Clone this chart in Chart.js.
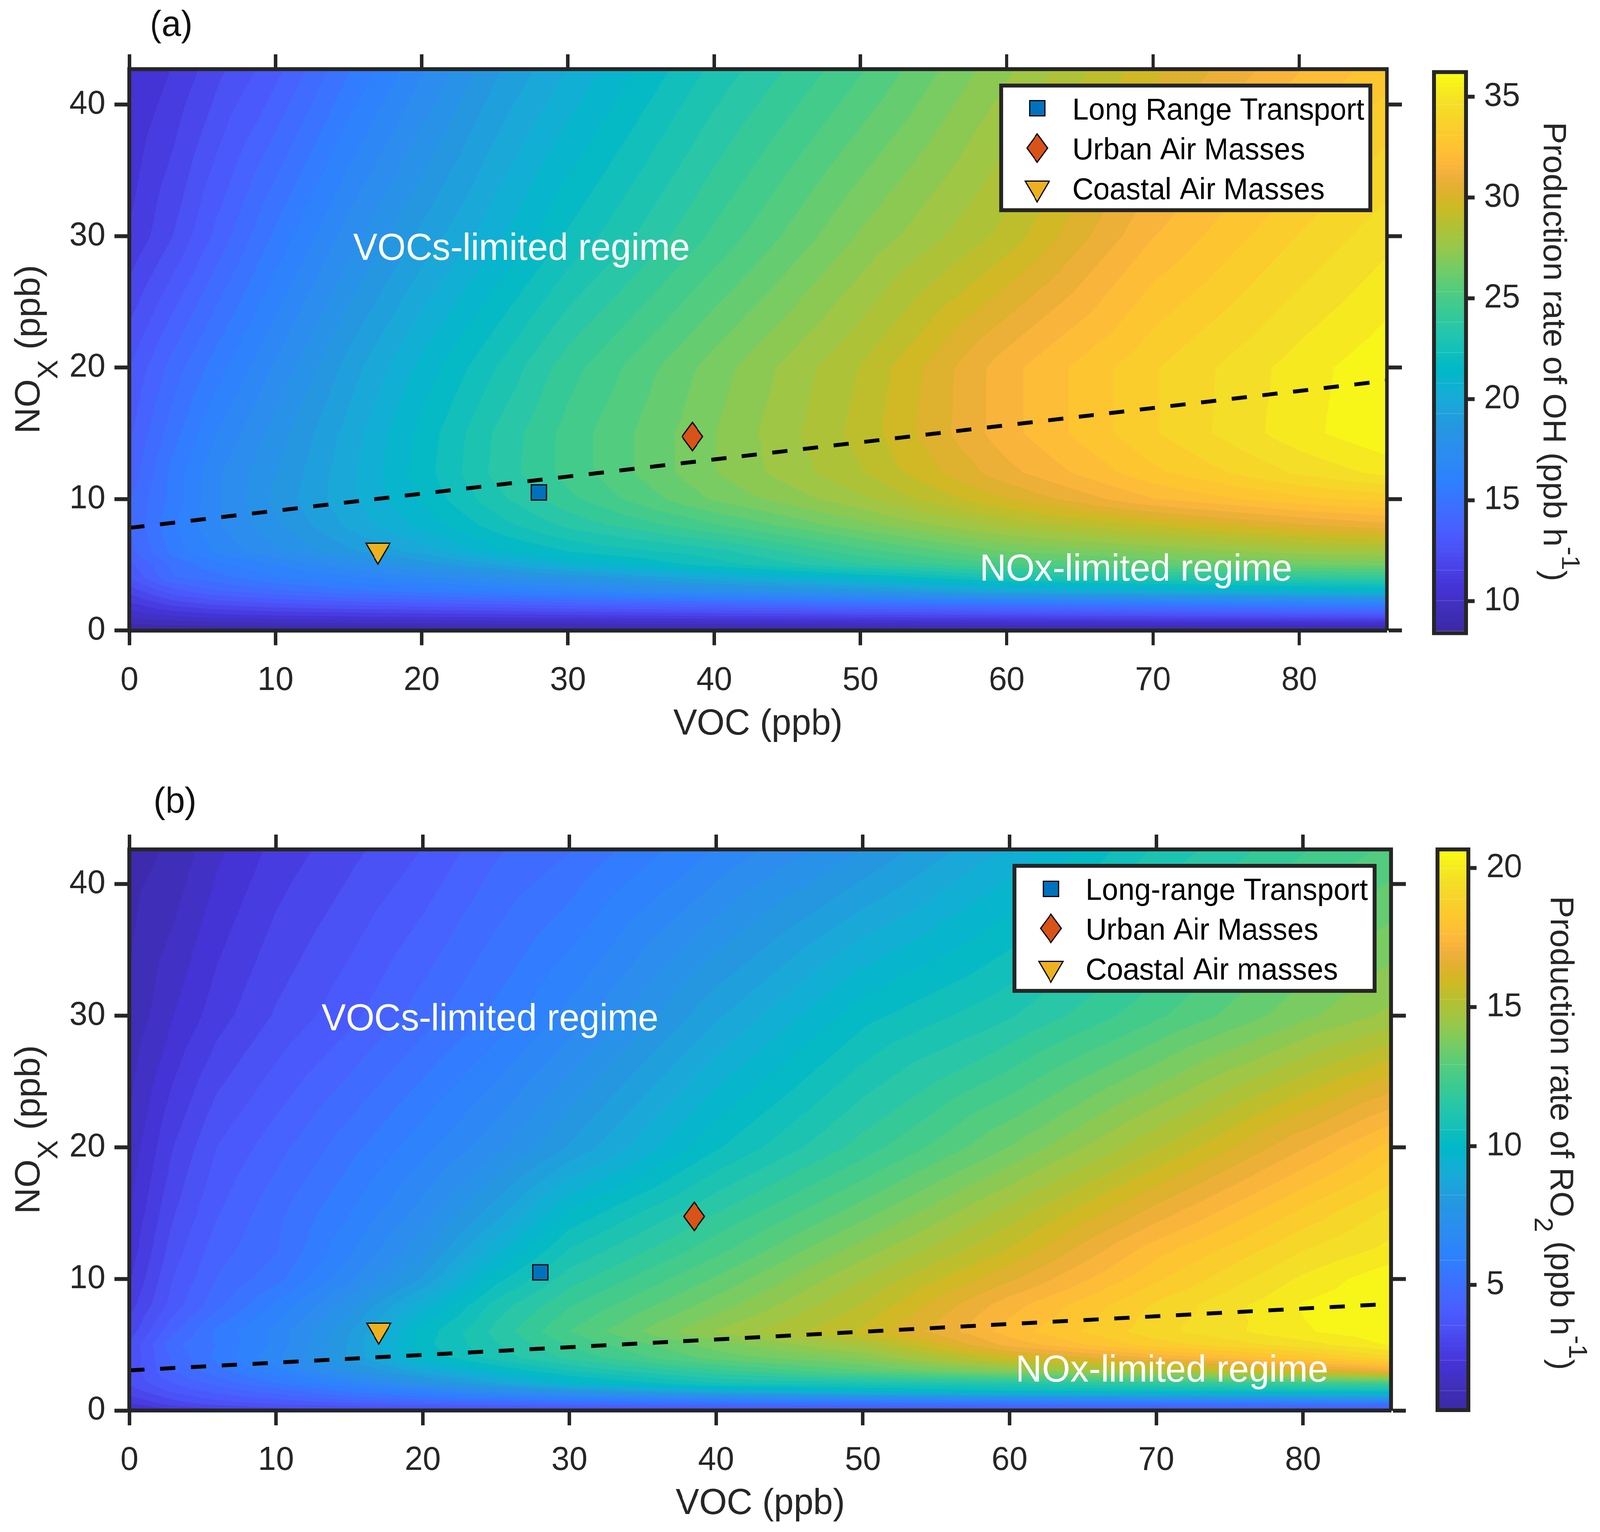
<!DOCTYPE html>
<html>
<head>
<meta charset="utf-8">
<title>OH and RO2 production isopleths</title>
<style>
html,body{margin:0;padding:0;background:#fff;overflow:hidden}
#page{position:absolute;left:0;top:0;width:4205px;height:3921px;transform-origin:0 0;background:#fff}
canvas{position:absolute;display:block}
</style>
<script src="https://cdn.jsdelivr.net/npm/chart.js@4/dist/chart.umd.js"></script>
</head>
<body>
<div id="page">
<canvas id="mainA"></canvas><canvas id="barA"></canvas>
<canvas id="mainB"></canvas><canvas id="barB"></canvas>
</div>
<script>
// the browser window may be narrower than the 4205 px sheet: fit the sheet to it
document.getElementById('page').style.transform='scale('+Math.min(1,innerWidth/4205)+','+Math.min(1,innerHeight/3921)+')';

// ---------- data ----------
const vocTicks = [0,10,20,30,40,50,60,70,80];
const noxTicks = [0,10,20,30,40];
const ohBarTicks = [10,15,20,25,30,35];
const ro2BarTicks = [5,10,15,20];
const vocMax = 86, noxMaxA = 42.7, noxMaxB = 42.64;
const ohRange = [8.5,36.13], ro2Range = [0.57,20.6];

const seriesNames = ['Long Range Transport','Urban Air Masses','Coastal Air Masses'];
const seriesNamesB = ['Long-range Transport','Urban Air Masses','Coastal Air masses'];
const seriesVoc = [28,38.5,17];
const seriesNox = [10.5,14.75,5.85];
const seriesColors = ['#0072BD','#D95319','#EDB120'];
const ridgeVoc = [0,86];
const ridgeNoxA = [7.8,19];
const ridgeNoxB = [3.05,8.1];

const gridVoc = [0,3,6,10,15,20,25,30,40,50,60,70,80,86];
const gridNoxA = [0,0.5,1,2,3,4,5,6,8,10,12,15,20,30,42.7];
const ohRate = [
 [8.4,8.5,8.5,8.6,8.6,8.6,8.6,8.6,8.6,8.6,8.6,8.6,8.6,8.6],
 [9.1,9.3,9.4,9.5,9.6,9.6,9.7,9.7,9.8,9.9,10,10.1,10.2,10.2],
 [9.8,10.2,10.5,10.7,10.8,10.9,11,11.1,11.3,11.5,11.7,11.9,12.1,12.2],
 [10.8,11.8,12.3,12.7,13,13.2,13.4,13.7,14.1,14.6,15,15.4,15.8,16],
 [11.8,13.2,14,14.5,15.1,15.5,16,16.5,17.6,18.6,20,20.5,20.9,21.1],
 [12.8,14.6,15,15.8,16.3,16.9,17.6,18.3,20,21.3,22.8,23.3,23.8,24],
 [13.2,14.8,15.7,16.5,17.4,18.5,19.5,20.7,22.3,23.8,25,25.8,26.3,26.5],
 [13.8,15.5,16.6,17.6,18.8,19.8,21.2,22,23,24.8,26.3,27,27.8,28],
 [14,15.8,17,18.2,19.7,21,22.3,23.4,25,26.7,28.3,29.4,30.5,31],
 [14,15.5,17,18.5,20,21.5,23,24.3,26.4,28,30,31.8,32.9,33.3],
 [13.6,15.5,17,18.3,20,21.7,23.4,24.7,26.9,28.7,31,32.9,34.4,35.1],
 [13.3,15,16.5,18,19.8,21.6,23.3,24.7,26.9,29,31.6,33.6,35.3,36.05],
 [12.8,14.3,15.6,17.2,19.2,21,22.6,24.2,26.6,28.8,31.6,33.6,35.2,36],
 [11,12.2,13.6,15.4,17.4,19.1,20.6,22.1,24.6,27,29,31.8,33.7,34.7],
 [10.3,11,12,13.2,15.2,17,18.8,20.2,22.8,25,27.4,29.8,31.8,32.8]
];
const gridNoxB = [0,0.5,1,1.5,2,3,4,5,6,8,10,12,15,20,30,42.64];
const ro2Rate = [
 [1.5,2.2,2.6,2.9,3,3.1,3.2,3.3,3.4,3.5,3.6,3.7,3.8,3.8],
 [2.3,3,3.4,3.7,4,4.3,4.5,4.7,4.9,5,5.1,5.1,5.2,5.2],
 [2.7,3.4,3.9,4.3,4.9,5.4,5.9,6.3,6.9,7.3,7.7,7.9,8.1,8.2],
 [3,3.8,4.3,4.8,5.6,6.3,7.1,7.9,9.2,9.9,10.3,10.4,10.5,10.6],
 [3.3,4.1,4.7,5.4,6.3,7.4,8.5,9.6,10.7,10.9,11.2,11.6,11.9,12.1],
 [3.4,4.6,5.3,6.2,7.5,8.8,9.9,10.8,12,13,14,14.9,16.1,16.8],
 [3.3,4.7,5.6,6.7,8.2,10,11,11.8,13.2,14,15.9,17.1,18.2,19.1],
 [3.3,4.9,5.5,6.5,8.2,10.2,11.2,12.2,13.7,14.9,17.2,18.6,19.5,20.2],
 [3,4.5,5.6,6.5,8.1,10.1,11.4,12.6,14.4,15.8,17.7,19.1,20.1,20.5],
 [2.6,3.9,4.9,6,7.5,9.3,11,12.1,13.7,15.3,17.3,18.9,20.2,20.6],
 [2.3,3.7,4.6,5.3,6.7,8.2,10.2,11.5,13.1,14.8,16.5,18.3,19.8,20.5],
 [2.1,3.5,4.4,5,6.3,7.6,9.4,10.9,12.5,14.2,15.8,17.8,19.3,19.9],
 [1.9,3.2,4.1,4.9,5.9,7,8.4,10,11.7,13.3,15,16.8,18.5,19.4],
 [1.6,2.8,3.7,4.4,5.3,6.2,7.1,8.2,10.3,11.9,13.5,15.2,17,18.1],
 [1.1,1.9,2.6,3.3,4,4.8,5.6,6.5,8.5,10.2,11.2,12.5,13.8,14.5],
 [0.8,1.1,1.8,2.5,3.1,3.7,4.5,5,6.4,7.7,9.1,10.9,12.1,12.7]
];
const cmapStops = [0,0.044,0.077,0.11,0.143,0.175,0.214,0.267,0.319,0.371,0.42,0.469,0.504,0.537,0.573,0.609,0.655,0.694,0.733,0.765,0.792,0.818,0.844,0.877,0.915,0.948,1];
const cmapColors = ['#3c28a8','#4030bc','#4433d5','#4840e5','#4a50f5','#4a5cff','#3f6cff','#2e80ff','#2c8cf0','#2498e0','#18acd8','#00b8c8','#14c0b8','#25c5ac','#38ca94','#50cc80','#78cc62','#9bc748','#b5c030','#cfba24','#e0b030','#f0b03c','#ffb83a','#fdc52f','#f8d32b','#f5df26','#f9fb15'];

// ---------- helpers ----------
const FONT = '"Liberation Sans", Arial, sans-serif';
const INK = '#262626';
const bandCount = 45, barSteps = 128;
function hexRgb(h){return [1,3,5].map(i=>parseInt(h.substr(i,2),16));}
function cmap(t){
  t=Math.max(0,Math.min(1,t));
  let i=0; while(i<cmapStops.length-2 && t>cmapStops[i+1]) i++;
  const f=(t-cmapStops[i])/(cmapStops[i+1]-cmapStops[i]);
  const a=hexRgb(cmapColors[i]), b=hexRgb(cmapColors[i+1]);
  return 'rgb('+a.map((v,k)=>Math.round(v+(b[k]-v)*f)).join(',')+')';
}
function markerCanvas(kind,color){
  const sizes={square:[43,42],diamond:[56,75],triangle:[66,56]};
  const [w,h]=sizes[kind], c=document.createElement('canvas');
  c.width=w+4;c.height=h+4;
  const g=c.getContext('2d');
  g.translate(2,2);g.beginPath();
  if(kind==='square'){g.rect(1.5,1.5,w-3,h-3);}
  else if(kind==='diamond'){g.moveTo(w/2,1);g.lineTo(w-1,h/2);g.lineTo(w/2,h-1);g.lineTo(1,h/2);g.closePath();}
  else{g.moveTo(1.5,1.5);g.lineTo(w-1.5,1.5);g.lineTo(w/2,h-1);g.closePath();}
  g.fillStyle=color;g.fill();
  g.lineWidth=3;g.strokeStyle='#000';g.lineJoin='miter';g.stroke();
  return c;
}
const markerKinds=['square','diamond','triangle'];
const markers=markerKinds.map((k,i)=>markerCanvas(k,seriesColors[i]));

function richText(ctx,x,y,angle,runs,size,color){
  const fontOf=r=>(r.sub||r.sup? size*0.8:size)+'px '+FONT;
  let total=0; runs.forEach(r=>{ctx.font=fontOf(r);total+=ctx.measureText(r.t).width;});
  ctx.save();ctx.translate(x,y);ctx.rotate(angle);ctx.fillStyle=color;
  ctx.textAlign='left';ctx.textBaseline='alphabetic';
  let p=-total/2;
  runs.forEach(r=>{
    ctx.font=fontOf(r);
    ctx.fillText(r.t,p,r.sub?size*0.5:(r.sup?-size*0.56:0));
    p+=ctx.measureText(r.t).width;
  });
  ctx.restore();
}
const contourBands={id:'contourBands',beforeDatasetsDraw(chart,args,o){
  const {ctx,chartArea:a,scales:{x:sx,y:sy}}=chart;
  const px=o.xs.map(v=>sx.getPixelForValue(v)), py=o.ys.map(v=>sy.getPixelForValue(v));
  const [lo,hi]=o.range, step=(hi-lo)/bandCount;
  ctx.save();ctx.beginPath();ctx.rect(a.left,a.top,a.width,a.height);ctx.clip();
  for(let k=0;k<bandCount;k++){
    const lev=k===0?-1e9:lo+k*step;
    ctx.beginPath();
    const tri=(A,B,C)=>{
      const out=[],P=[A,B,C];
      for(let i=0;i<3;i++){
        const u=P[i],v=P[(i+1)%3];
        if(u[2]>=lev) out.push(u);
        if((u[2]>=lev)!==(v[2]>=lev)){
          const f=(lev-u[2])/(v[2]-u[2]);
          out.push([u[0]+(v[0]-u[0])*f,u[1]+(v[1]-u[1])*f]);
        }
      }
      if(out.length<3) return;
      ctx.moveTo(out[0][0],out[0][1]);
      for(let i=1;i<out.length;i++) ctx.lineTo(out[i][0],out[i][1]);
      ctx.closePath();
    };
    for(let j=0;j<o.ys.length-1;j++) for(let i=0;i<o.xs.length-1;i++){
      const a1=[px[i],py[j],o.z[j][i]],b1=[px[i+1],py[j],o.z[j][i+1]],
            c1=[px[i+1],py[j+1],o.z[j+1][i+1]],d1=[px[i],py[j+1],o.z[j+1][i]],
            m=[(px[i]+px[i+1])/2,(py[j]+py[j+1])/2,(a1[2]+b1[2]+c1[2]+d1[2])/4];
      tri(a1,b1,m);tri(b1,c1,m);tri(c1,d1,m);tri(d1,a1,m);
    }
    ctx.fillStyle=cmap((k+0.5)/bandCount);
    ctx.fill();
  }
  ctx.restore();
}};
const panelDecor={id:'panelDecor',afterDatasetsDraw(chart,args,o){
  const {ctx,scales:{x:sx,y:sy}}=chart;
  ctx.save();
  ctx.font='96px '+FONT;ctx.fillStyle='#fff';ctx.textAlign='left';ctx.textBaseline='alphabetic';
  o.notes.forEach(n=>ctx.fillText(n.text,sx.getPixelForValue(n.x),sy.getPixelForValue(n.y)));
  const L=o.legend;
  ctx.fillStyle='#fff';ctx.fillRect(L.x,L.y,L.w,L.h);
  ctx.lineWidth=10;ctx.strokeStyle=INK;ctx.strokeRect(L.x+5,L.y+5,L.w-10,L.h-10);
  L.names.forEach((name,i)=>{
    const m=markers[i];
    ctx.drawImage(m,L.mx-m.width/2,L.my[i]-m.height/2);
    ctx.font='77px '+FONT;ctx.fillStyle='#000';ctx.fillText(name,L.tx,L.ty[i]);
  });
  ctx.font='92px '+FONT;ctx.fillStyle='#111';ctx.textAlign='center';
  ctx.fillText(o.letter.text,o.letter.x,o.letter.y);
  ctx.font='93px '+FONT;ctx.fillStyle=INK;ctx.textAlign='center';
  ctx.fillText('VOC (ppb)',o.xTitle.x,o.xTitle.y);
  richText(ctx,o.yTitle.x,o.yTitle.y,-Math.PI/2,[{t:'NO'},{t:'X',sub:true},{t:' (ppb)'}],93,INK);
  ctx.restore();
}};
const barDecor={id:'barDecor',afterDatasetsDraw(chart,args,o){
  const {ctx,chartArea:a}=chart;
  ctx.save();ctx.lineWidth=10;ctx.strokeStyle=INK;
  ctx.strokeRect(a.left-5,a.top-5,a.width+10,a.height+10);
  richText(ctx,o.title.x,o.title.y,Math.PI/2,o.title.runs,85,INK);
  ctx.restore();
}};
function placed(id,left,top,w,h){
  const c=document.getElementById(id);
  c.style.left=left+'px';c.style.top=top+'px';
  c.style.width=w+'px';c.style.height=h+'px';c.width=w;c.height=h;
  return c;
}
function mainChart(id,top,height,area,field,noxMax,ridge,extras){
  const W=3740;
  const c=placed(id,0,top,W,height);
  const tickFont={family:FONT,size:85};
  const axisBase={type:'linear',border:{display:true,width:10,color:INK,z:2}};
  const xAxis=(pos,labels)=>({...axisBase,position:pos,min:0,max:vocMax,
    grid:{drawOnChartArea:false,drawTicks:true,tickLength:38,tickWidth:9,tickColor:INK,z:2},
    ticks:{display:labels,autoSkip:false,maxRotation:0,color:INK,font:tickFont,padding:40},
    afterBuildTicks:s=>{s.ticks=vocTicks.map(v=>({value:v}));},
    afterFit:s=>{s.height=pos==='bottom'?height-area.bottom:area.top;}});
  const yAxis=(pos,labels)=>({...axisBase,position:pos,min:0,max:noxMax,
    grid:{drawOnChartArea:false,drawTicks:true,tickLength:39,tickWidth:10,tickColor:INK,z:2},
    ticks:{display:labels,autoSkip:false,color:INK,font:tickFont,padding:24},
    afterBuildTicks:s=>{s.ticks=noxTicks.map(v=>({value:v}));},
    afterFit:s=>{s.width=pos==='left'?area.left:W-area.right;}});
  return new Chart(c,{
    type:'scatter',
    data:{datasets:[
      {type:'line',label:'Regime boundary',data:ridgeVoc.map((v,i)=>({x:v,y:ridge[i]})),
       borderColor:'#000',borderWidth:10,borderDash:[40,41],pointRadius:0,fill:false,tension:0,order:2},
      ...extras.legend.names.map((n,i)=>({label:n,data:[{x:seriesVoc[i],y:seriesNox[i]}],
       pointStyle:markers[i],pointRadius:30,backgroundColor:seriesColors[i],order:1}))
    ]},
    options:{responsive:false,animation:false,devicePixelRatio:1,
      layout:{padding:0},events:[],
      scales:{x:xAxis('bottom',true),xTop:xAxis('top',false),y:yAxis('left',true),yRight:yAxis('right',false)},
      plugins:{legend:{display:false},tooltip:{enabled:false},title:{display:false},
        contourBands:field,panelDecor:extras}
    },
    plugins:[contourBands,panelDecor]
  });
}
function barChart(id,top,height,inner,range,ticks,title){
  const W=465,L=3740;
  const c=placed(id,L,top,W,height);
  const step=(range[1]-range[0])/barSteps;
  const ds=[];
  for(let i=0;i<barSteps;i++){
    const col=cmap((i+0.5)/barSteps);
    ds.push({data:[[range[0]+i*step,range[0]+(i+1)*step]],backgroundColor:col,borderColor:col,borderWidth:1,
      grouped:false,barPercentage:1,categoryPercentage:1,borderSkipped:false});
  }
  return new Chart(c,{
    type:'bar',
    data:{labels:[''],datasets:ds},
    options:{responsive:false,animation:false,devicePixelRatio:1,events:[],
      layout:{padding:{left:inner.left-L,top:inner.top-top,bottom:top+height-inner.bottom,right:0}},
      scales:{
        x:{display:false,type:'category'},
        y:{type:'linear',position:'right',min:range[0],max:range[1],
           border:{display:false},
           grid:{drawOnChartArea:false,drawTicks:true,tickLength:27,tickWidth:10,tickColor:INK},
           ticks:{autoSkip:false,color:INK,font:{family:FONT,size:85},padding:25},
           afterBuildTicks:s=>{s.ticks=ticks.map(v=>({value:v}));},
           afterFit:s=>{s.width=L+W-inner.right;}}
      },
      plugins:{legend:{display:false},tooltip:{enabled:false},title:{display:false},barDecor:{title}}
    },
    plugins:[barDecor]
  });
}
const noteOf=(text,x,y)=>({text,x,y});

mainChart('mainA',0,1950,{left:340,right:3645,top:177,bottom:1613.5},
  {xs:gridVoc,ys:gridNoxA,z:ohRate,range:ohRange},noxMaxA,ridgeNoxA,{
   notes:[noteOf('VOCs-limited regime',15.3,28.2),noteOf('NOx-limited regime',58.15,3.8)],
   legend:{x:2626,y:214,w:980,h:329,names:seriesNames,mx:2726,my:[277,379,490],tx:2818,ty:[306,408,510]},
   letter:{text:'(a)',x:450,y:92},
   xTitle:{x:1992,y:1880},yTitle:{x:104,y:894}
  });
barChart('barA',0,1950,{left:3774,right:3848,top:189.5,bottom:1615.5},ohRange,ohBarTicks,
  {x:4057-3740,y:900,runs:[{t:'Production rate of OH (ppb h'},{t:'-1',sup:true},{t:')'}]});

mainChart('mainB',1950,1971,{left:340,right:3656,top:224,bottom:1660},
  {xs:gridVoc,ys:gridNoxB,z:ro2Rate,range:ro2Range},noxMaxB,ridgeNoxB,{
   notes:[noteOf('VOCs-limited regime',13.1,28.9),noteOf('NOx-limited regime',60.4,2.2)],
   legend:{x:2661,y:261,w:957,h:330,names:seriesNamesB,mx:2762,my:[325,426,537],tx:2853,ty:[353,455,557]},
   letter:{text:'(b)',x:460,y:130},
   xTitle:{x:1998,y:1925},yTitle:{x:104,y:941}
  });
barChart('barB',1950,1971,{left:3783,right:3854,top:2179,bottom:3604},ro2Range,ro2BarTicks,
  {x:4076-3740,y:2900-1950,runs:[{t:'Production rate of RO'},{t:'2',sub:true},{t:' (ppb h'},{t:'-1',sup:true},{t:')'}]});
</script>
</body>
</html>
